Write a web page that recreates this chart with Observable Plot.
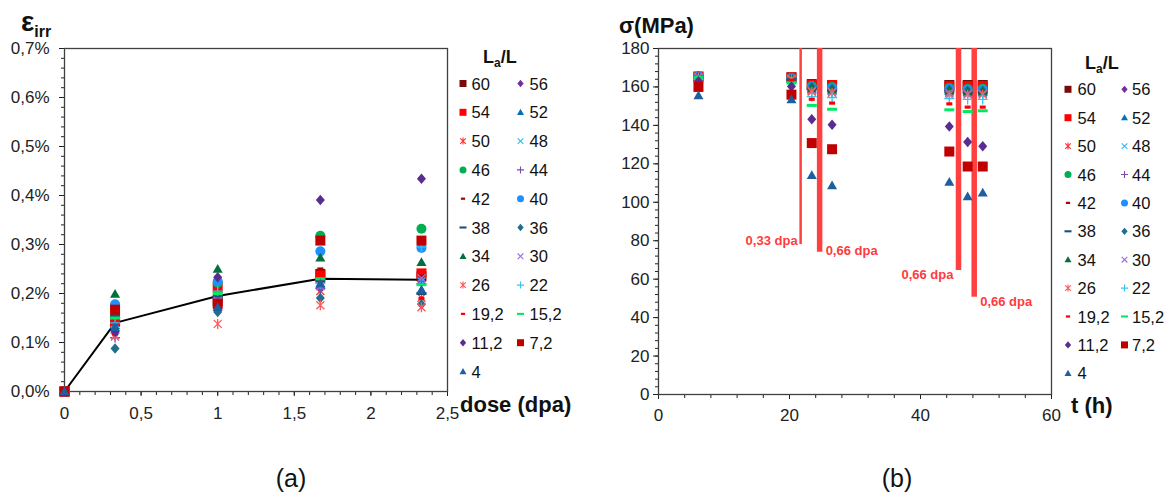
<!DOCTYPE html>
<html><head><meta charset="utf-8">
<script src="https://cdn.jsdelivr.net/npm/d3@7"></script>
<script src="https://cdn.jsdelivr.net/npm/@observablehq/plot@0.6"></script>
<style>
body{margin:0;background:#fff;font-family:"Liberation Sans",Arial,sans-serif;}
#wrap{position:relative;width:1174px;height:497px;overflow:hidden;background:#fff;}
#wrap > svg, #wrap > figure{position:absolute;margin:0;}
</style></head><body><div id="wrap"></div>
<script>
// ---------- data ----------
const labels = ["60","56","54","52","50","48","46","44","42","40","38","36","34","30","26","22","19,2","15,2","11,2","7,2","4"];
const doses = [0, 0.33, 1, 1.67, 2.33];
const strainPct = [
  [0,0.145,0.185,0.240,0.235], // 60
  [0,0.120,0.190,0.210,0.225], // 56
  [0,0.142,0.212,0.237,0.241], // 54
  [0,0.135,0.175,0.220,0.207], // 52
  [0,0.115,0.185,0.205,0.191], // 50
  [0,0.125,0.190,0.215,0.225], // 48
  [0,0.175,0.222,0.318,0.332], // 46
  [0,0.110,0.190,0.210,0.220], // 44
  [0,0.160,0.180,0.250,0.236], // 42
  [0,0.178,0.225,0.286,0.293], // 40
  [0,0.155,0.195,0.225,0.200], // 38
  [0,0.088,0.162,0.191,0.178], // 36
  [0,0.199,0.250,0.273,0.264], // 34
  [0,0.112,0.185,0.215,0.231], // 30
  [0,0.115,0.138,0.176,0.172], // 26
  [0,0.140,0.205,0.220,0.295], // 22
  [0,0.117,0.200,0.230,0.190], // 19,2
  [0,0.150,0.200,0.230,0.218], // 15,2
  [0,0.122,0.233,0.391,0.434], // 11,2
  [0,0.167,0.179,0.308,0.308], // 7,2
  [0,0.131,0.172,0.220,0.207]  // 4
];
const meanStrainPct = [0, 0.140, 0.195, 0.230, 0.228];

const times = [6.1, 20.3, 23.4, 26.5, 44.4, 47.2, 49.5];
const stressMPa = [
  [165,165,161.5,161,161,161,161],           // 60
  [164,163.5,160.5,160,160,159.5,159.5],     // 56
  [165.5,165,161,161,160.5,160.5,160.5],     // 54
  [164.5,164,158.5,158,158,157.5,157.5],     // 52
  [165,164.5,159,158,157.5,157,157],         // 50
  [165,164,158,158,157,157,157],             // 48
  [165.5,164.5,160.5,160,159.5,159,159],     // 46
  [165,164,159,158.5,158,157.5,157.5],       // 44
  [165,164,158.5,157.5,157,156.5,156.5],     // 42
  [165.5,164.5,160,159.5,159,158.5,158.5],   // 40
  [165,164,159,158,157.5,157,157],           // 38
  [165.5,164.5,160,159,158.5,158,158],       // 36
  [165,164,159.5,158.5,158,157.5,157.5],     // 34
  [165,164,158,157.5,157,156.5,156.5],       // 30
  [165,164,157.5,157,156,156,156],           // 26
  [164,162.5,155,154.5,154,153.5,153.5],     // 22
  [165,163.5,153.6,151.6,151.2,149.5,149.5], // 19,2
  [165,162,150.4,148.4,148.1,147.2,147.6],   // 15,2
  [163,160.2,143.2,140.3,139.4,131.3,129.2], // 11,2
  [160,156,130.8,127.6,126.4,118.6,118.6],   // 7,2
  [155.6,153.5,114,108.7,110.5,103,104.9]    // 4
];
const pulseT = [21.7, 24.6, 45.8, 48.2];
const pulseEndMPa = [78, 74, 64.5, 50.6];
const pulseText = ["0,33 dpa", "0,66 dpa", "0,66 dpa", "0,66 dpa"];

const strainTicks = [0,0.1,0.2,0.3,0.4,0.5,0.6,0.7];
const doseTicks = [0,0.5,1,1.5,2,2.5];
const stressTicks = [0,20,40,60,80,100,120,140,160,180];
const timeTicks = [0,20,40,60];

// ---------- symbols ----------
function sym(fn){ return {draw(c, size){ const r = Math.sqrt(size/Math.PI); fn(c, r); }}; }
const SQUARE = sym((c,r)=>{ c.rect(-r,-r,2*r,2*r); });
const DIAMOND = sym((c,r)=>{ c.moveTo(0,-r*1.05); c.lineTo(r*0.9,0); c.lineTo(0,r*1.05); c.lineTo(-r*0.9,0); c.closePath(); });
const TRIANGLE = sym((c,r)=>{ c.moveTo(0,-r); c.lineTo(r,r*0.75); c.lineTo(-r,r*0.75); c.closePath(); });
const CIRCLE = sym((c,r)=>{ c.moveTo(r,0); c.arc(0,0,r,0,2*Math.PI); });
const DASHL = sym((c,r)=>{ c.rect(-r,-r*0.3,2*r,r*0.6); });
const DASHS = sym((c,r)=>{ c.rect(-r*0.6,-r*0.32,r*1.2,r*0.64); });
const TIMES = sym((c,r)=>{ const k=r*0.8; c.moveTo(-k,-k); c.lineTo(k,k); c.moveTo(k,-k); c.lineTo(-k,k); });
const PLUS = sym((c,r)=>{ c.moveTo(-r,0); c.lineTo(r,0); c.moveTo(0,-r); c.lineTo(0,r); });
const STAR = sym((c,r)=>{ const k=r*0.8; c.moveTo(-k,-k); c.lineTo(k,k); c.moveTo(k,-k); c.lineTo(-k,k); c.moveTo(0,-r); c.lineTo(0,r); });

const styles = [
  {s:SQUARE,  c:"#7a0a0a"},            // 60
  {s:DIAMOND, c:"#7030a0"},            // 56
  {s:SQUARE,  c:"#ff0000"},            // 54
  {s:TRIANGLE,c:"#0070c0"},            // 52
  {s:STAR,    c:"#ff3030", line:true}, // 50
  {s:TIMES,   c:"#33b8f0", line:true}, // 48
  {s:CIRCLE,  c:"#00b050"},            // 46
  {s:PLUS,    c:"#7a4ea8", line:true}, // 44
  {s:DASHS,   c:"#b00000"},            // 42
  {s:CIRCLE,  c:"#1e90ff"},            // 40
  {s:DASHL,   c:"#1f4e79"},            // 38
  {s:DIAMOND, c:"#1f6e8c"},            // 36
  {s:TRIANGLE,c:"#00703c"},            // 34
  {s:TIMES,   c:"#9b6fd6", line:true}, // 30
  {s:STAR,    c:"#ff5a5a", line:true}, // 26
  {s:PLUS,    c:"#33c4f4", line:true}, // 22
  {s:DASHS,   c:"#ff0000"},            // 19,2
  {s:DASHL,   c:"#00e864"},            // 15,2
  {s:DIAMOND, c:"#5b2c8f"},            // 11,2
  {s:SQUARE,  c:"#c00000"},            // 7,2
  {s:TRIANGLE,c:"#1f5f9f"}             // 4
];

const FONT = '"Liberation Sans", Arial, sans-serif';
const fmtComma = d => String(d).replace(".", ",");
const fmtPct = d => d.toFixed(1).replace(".", ",") + "%";
const blank = () => "";

function seriesDots(xs, rows){
  return labels.map((lab, i) => {
    const st = styles[i];
    const data = xs.map((x, j) => ({x, y: rows[i][j]}));
    return Plot.dot(data, {x:"x", y:"y", symbol: st.s, r: 5,
      fill: st.line ? "none" : st.c, stroke: st.line ? st.c : "none", strokeWidth: 1.3});
  });
}

const wrap = document.getElementById("wrap");
const plotStyle = {fontFamily: FONT, fontSize: "17px", color: "#222", background: "transparent", overflow: "visible"};

// ---------- left chart ----------
const left = Plot.plot({
  width: 460, height: 430,
  marginLeft: 64, marginRight: 13, marginTop: 48, marginBottom: 39,
  x: {domain: [0, 2.5]}, y: {domain: [0, 0.7]},
  style: plotStyle,
  marks: [
    Plot.axisY({ticks: d3.range(0, 0.7001, 0.02), tickSize: 3, tickFormat: blank, label: null}),
    Plot.axisX({ticks: d3.range(0, 2.5001, 0.1), tickSize: 4, tickFormat: blank, label: null}),
    Plot.axisY({ticks: strainTicks, tickSize: 5, tickPadding: 10, tickFormat: fmtPct, label: null}),
    Plot.axisX({ticks: doseTicks, tickSize: 5, tickPadding: 10, tickFormat: fmtComma, label: null}),
    Plot.frame({stroke: "#404040", strokeWidth: 1.3}),
    Plot.line(doses.map((d, j) => ({x: d, y: meanStrainPct[j]})), {x: "x", y: "y", stroke: "#000", strokeWidth: 2}),
    ...seriesDots(doses, strainPct)
  ]
});
left.style.left = "0px"; left.style.top = "0px";
wrap.appendChild(left);

// ---------- right chart ----------
const pulses = pulseT.map((t, i) => ({t, end: pulseEndMPa[i], label: pulseText[i]}));
const labelLayout = [
  {anchor: "end", dx: -3, dy: -4},
  {anchor: "start", dx: 6, dy: -1},
  {anchor: "end", dx: -5, dy: 4},
  {anchor: "start", dx: 6, dy: 5}
];
const right = Plot.plot({
  width: 460, height: 430,
  marginLeft: 58, marginRight: 9, marginTop: 48, marginBottom: 36,
  x: {domain: [0, 60]}, y: {domain: [0, 180]},
  style: plotStyle,
  marks: [
    Plot.axisY({ticks: d3.range(0, 181, 4), tickSize: 3, tickFormat: blank, label: null}),
    Plot.axisX({ticks: d3.range(0, 61, 4), tickSize: 4, tickFormat: blank, label: null}),
    Plot.axisY({ticks: stressTicks, tickSize: 5, tickPadding: 4, tickFormat: d => String(d), label: null}),
    Plot.axisX({ticks: timeTicks, tickSize: 5, tickPadding: 9, tickFormat: d => String(d), label: null}),
    Plot.frame({stroke: "#404040", strokeWidth: 1.3}),
    ...pulses.map((p, i) => Plot.ruleX([p], {x: "t", y1: () => 180, y2: "end", stroke: "#ff4040", strokeWidth: i === 0 ? 2.5 : 5.5})),
    ...pulses.map((p, i) => Plot.text([p], {x: "t", y: "end", text: "label", textAnchor: labelLayout[i].anchor,
        dx: labelLayout[i].dx, dy: labelLayout[i].dy, fill: "#ff3b3b", fontWeight: "bold", fontSize: 13})),
    ...seriesDots(times, stressMPa)
  ]
});
right.style.left = "600px"; right.style.top = "0px";
wrap.appendChild(right);

// ---------- overlay texts & legends ----------
const ov = d3.select(wrap).append("svg").attr("width", 1174).attr("height", 497)
  .style("left", "0px").style("top", "0px").style("pointer-events", "none")
  .attr("font-family", FONT).attr("fill", "#111");

// axis titles
const eps = ov.append("text").attr("x", 21).attr("y", 31).attr("font-weight", "bold");
eps.append("tspan").attr("font-size", 28).text("ε");
eps.append("tspan").attr("font-size", 16).attr("dy", 6).text("irr");
ov.append("text").attr("x", 619).attr("y", 33).attr("font-size", 22).attr("font-weight", "bold").text("σ(MPa)");
ov.append("text").attr("x", 460).attr("y", 412).attr("font-size", 22).attr("font-weight", "bold").text("dose (dpa)");
ov.append("text").attr("x", 1071).attr("y", 413).attr("font-size", 22).attr("font-weight", "bold").text("t (h)");
ov.append("text").attr("x", 291).attr("y", 487).attr("font-size", 25).attr("text-anchor", "middle").text("(a)");
ov.append("text").attr("x", 897).attr("y", 487).attr("font-size", 25).attr("text-anchor", "middle").text("(b)");

function legend(tx, ty, x1, t1, x2, t2, y0, step){
  const title = ov.append("text").attr("x", tx).attr("y", ty).attr("font-weight", "bold").attr("font-size", 18);
  title.append("tspan").text("L");
  title.append("tspan").attr("font-size", 12).attr("dy", 4).text("a");
  title.append("tspan").attr("dy", -4).text("/L");
  labels.forEach((lab, i) => {
    const row = Math.floor(i / 2), col = i % 2;
    const y = y0 + row * step;
    const st = styles[i];
    ov.append("path").attr("transform", `translate(${col ? x2 : x1},${y})`)
      .attr("d", d3.symbol(st.s, Math.PI * 3.5 * 3.5)())
      .attr("fill", st.line ? "none" : st.c).attr("stroke", st.line ? st.c : "none").attr("stroke-width", 1.1);
    ov.append("text").attr("x", col ? t2 : t1).attr("y", y + 6).attr("font-size", 16.5).text(lab);
  });
}
legend(483, 63, 463, 471.5, 520.5, 529.5, 83.5, 28.8);
legend(1085, 69, 1068, 1077.5, 1124.5, 1132, 89.3, 28.4);
</script></body></html>
